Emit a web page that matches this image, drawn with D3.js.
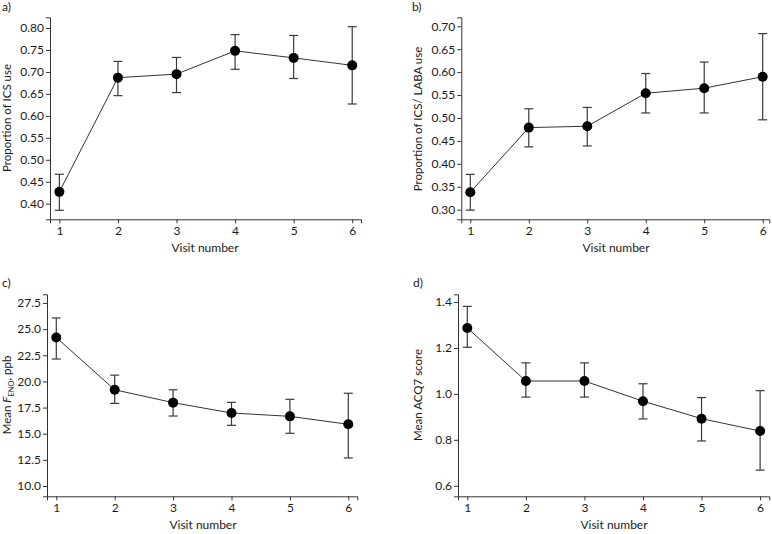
<!DOCTYPE html>
<html>
<head>
<meta charset="utf-8">
<script src="https://cdn.jsdelivr.net/npm/d3@7"></script>
<style>
  html, body { margin: 0; padding: 0; background: #fff; }
  svg { display: block; }
  text { font-family: Lato, "Noto Sans", sans-serif; fill: #1a1a1a; }
</style>
</head>
<body>
<svg id="chart" width="772" height="534"></svg>
<script>
// ---- Data ----
const visits = [1, 2, 3, 4, 5, 6];

const icsMean = [0.427, 0.687, 0.695, 0.748, 0.732, 0.715];
const icsLow  = [0.385, 0.646, 0.653, 0.706, 0.685, 0.627];
const icsHigh = [0.467, 0.724, 0.733, 0.785, 0.783, 0.803];

const labaMean = [0.338, 0.479, 0.482, 0.554, 0.565, 0.590];
const labaLow  = [0.299, 0.437, 0.439, 0.511, 0.511, 0.496];
const labaHigh = [0.377, 0.520, 0.523, 0.597, 0.622, 0.684];

const fenoMean = [24.2, 19.2, 17.97, 16.98, 16.66, 15.9];
const fenoLow  = [22.14, 17.9, 16.69, 15.8, 15.04, 12.68];
const fenoHigh = [26.07, 20.6, 19.2, 18.0, 18.29, 18.87];

const acqMean = [1.287, 1.056, 1.056, 0.968, 0.892, 0.838];
const acqLow  = [1.203, 0.986, 0.986, 0.891, 0.795, 0.668];
const acqHigh = [1.381, 1.135, 1.135, 1.044, 0.984, 1.014];

const icsTicks  = [0.40, 0.45, 0.50, 0.55, 0.60, 0.65, 0.70, 0.75, 0.80];
const labaTicks = [0.30, 0.35, 0.40, 0.45, 0.50, 0.55, 0.60, 0.65, 0.70];
const fenoTicks = [10.0, 12.5, 15.0, 17.5, 20.0, 22.5, 25.0, 27.5];
const acqTicks  = [0.6, 0.8, 1.0, 1.2, 1.4];

const panelLabels = ["a)", "b)", "c)", "d)"];
const xTitle = "Visit number";

// ---- Layout ----
const svg = d3.select("#chart");

const panels = [
  { label: panelLabels[0], mean: icsMean, low: icsLow, high: icsHigh, ticks: icsTicks, fmt: ".2f",
    yDomain: [0.3645, 0.8244], xDomain: [0.84, 6.15],
    left: 50, right: 361, top: 17.3, bottom: 219.3,
    lx: 2, ly: 11, ytx: 11, yty: 118, xtx: 205, xty: 252,
    ytitle: [{t: "Proportion of ICS use"}] },
  { label: panelLabels[1], mean: labaMean, low: labaLow, high: labaHigh, ticks: labaTicks, fmt: ".2f",
    yDomain: [0.279, 0.7196], xDomain: [0.846, 6.113],
    left: 461.3, right: 769.3, top: 17.3, bottom: 219.3,
    lx: 412, ly: 11, ytx: 422, yty: 119, xtx: 616, xty: 252,
    ytitle: [{t: "Proportion of ICS/ LABA use"}] },
  { label: panelLabels[2], mean: fenoMean, low: fenoLow, high: fenoHigh, ticks: fenoTicks, fmt: ".1f",
    yDomain: [9.015, 28.33], xDomain: [0.841, 6.154],
    left: 47, right: 357.3, top: 294.3, bottom: 496.3,
    lx: 2, ly: 287, ytx: 11, yty: 395, xtx: 203, xty: 529,
    ytitle: [{t: "Mean "}, {t: "F", italic: true}, {t: "ENO", sub: true}, {t: ", ppb", after: true}] },
  { label: panelLabels[3], mean: acqMean, low: acqLow, high: acqHigh, ticks: acqTicks, fmt: ".1f",
    yDomain: [0.554, 1.4335], xDomain: [0.841, 6.157],
    left: 458, right: 769.3, top: 294.3, bottom: 496.3,
    lx: 413, ly: 287, ytx: 422, yty: 395, xtx: 614, xty: 529,
    ytitle: [{t: "Mean ACQ7 score"}] }
];

panels.forEach(p => {
  const g = svg.append("g");
  const x = d3.scaleLinear().domain(p.xDomain).range([p.left, p.right]);
  const y = d3.scaleLinear().domain(p.yDomain).range([p.bottom, p.top]);

  // axes
  const ya = g.append("g").attr("transform", `translate(${p.left},0)`)
    .call(d3.axisLeft(y).tickValues(p.ticks).tickFormat(d3.format(p.fmt)).tickSizeOuter(0).tickSize(4).tickPadding(2));
  const xa = g.append("g").attr("transform", `translate(0,${p.bottom})`)
    .call(d3.axisBottom(x).tickValues(visits).tickFormat(d3.format("d")).tickSizeOuter(0).tickSize(4).tickPadding(3));
  [ya, xa].forEach(a => {
    a.select(".domain").attr("stroke", "#333").attr("stroke-width", 1);
    a.selectAll(".tick line").attr("stroke", "#333");
    a.selectAll(".tick text").style("font-size", "12px").attr("fill", "#1a1a1a");
  });

  // connecting line
  const data = visits.map((v, i) => ({ v, m: p.mean[i], lo: p.low[i], hi: p.high[i] }));
  g.append("path").datum(data)
    .attr("fill", "none").attr("stroke", "#333").attr("stroke-width", 1)
    .attr("d", d3.line().x(d => x(d.v)).y(d => y(d.m)));

  // error bars
  const eb = g.append("g").attr("stroke", "#3a3a3a").attr("stroke-width", 1.2);
  data.forEach(d => {
    eb.append("line").attr("x1", x(d.v)).attr("x2", x(d.v)).attr("y1", y(d.lo)).attr("y2", y(d.hi));
    eb.append("line").attr("x1", x(d.v) - 4.5).attr("x2", x(d.v) + 4.5).attr("y1", y(d.lo)).attr("y2", y(d.lo));
    eb.append("line").attr("x1", x(d.v) - 4.5).attr("x2", x(d.v) + 4.5).attr("y1", y(d.hi)).attr("y2", y(d.hi));
  });

  // points
  g.selectAll("circle.pt").data(data).join("circle")
    .attr("cx", d => x(d.v)).attr("cy", d => y(d.m)).attr("r", 5).attr("fill", "#000");

  // panel label
  g.append("text").attr("x", p.lx).attr("y", p.ly).style("font-size", "12px").text(p.label);

  // x title
  g.append("text").attr("x", p.xtx).attr("y", p.xty).attr("text-anchor", "middle")
    .style("font-size", "12px").text(xTitle);

  // y title
  const yt = g.append("text").attr("transform", `translate(${p.ytx},${p.yty}) rotate(-90)`)
    .attr("text-anchor", "middle").style("font-size", "11.5px");
  p.ytitle.forEach(s => {
    const ts = yt.append("tspan").text(s.t);
    if (s.italic) ts.style("font-style", "italic");
    if (s.sub) ts.attr("dy", "3").style("font-size", "7.5px");
    if (s.after) ts.attr("dy", "-3");
  });
});
</script>
</body>
</html>
